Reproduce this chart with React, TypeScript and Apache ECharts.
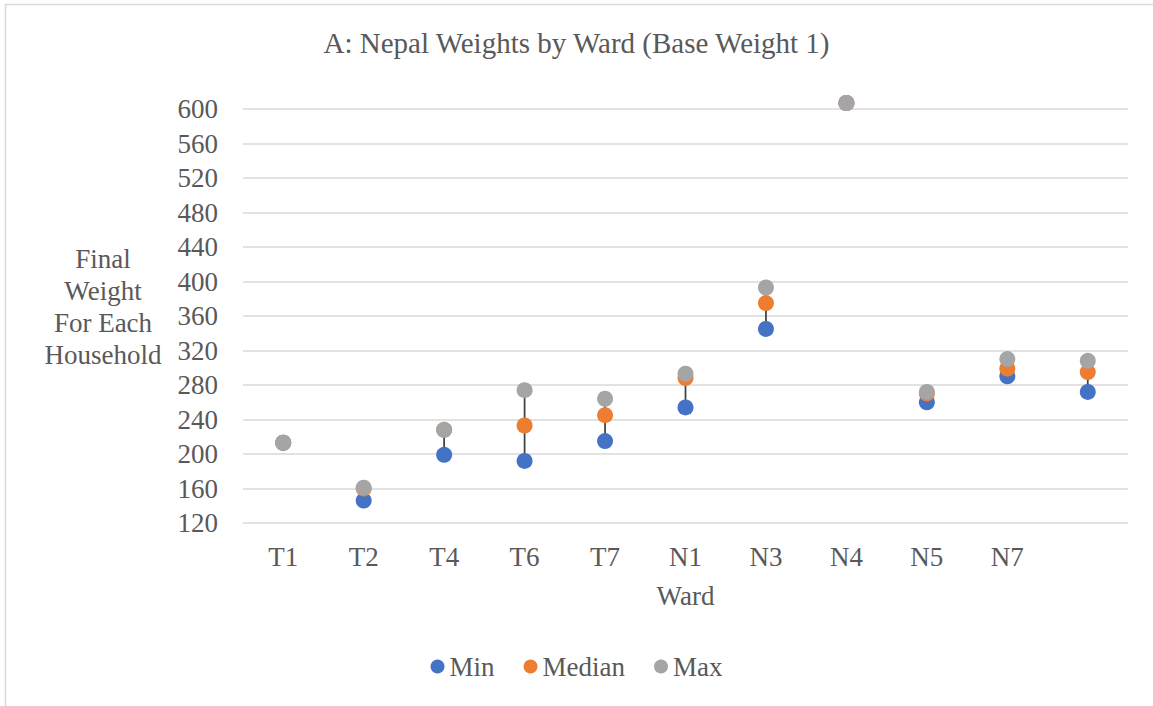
import React, { useEffect, useRef } from "react";
import * as echarts from "echarts";

// Wards along the x axis (the last slot carries no label)
const wards = ["T1", "T2", "T4", "T6", "T7", "N1", "N3", "N4", "N5", "N7", ""];

// Final household weights per ward
const minWeights = [213, 146, 199, 192, 215, 254, 345, 607, 260, 290, 272];
const medianWeights = [213, 160, 228, 233, 245, 288, 375, 607, 270, 299, 295];
const maxWeights = [213, 161, 228, 274, 264, 293, 393, 607, 272, 310, 308];

// Value axis ticks
const yMin = 120;
const yMax = 600;
const yStep = 40;

const FONT = "Times New Roman, serif";
const TEXT = "#595959";
const SIZE = 27;

export default function App() {
  const ref = useRef<HTMLDivElement>(null);

  useEffect(() => {
    if (!ref.current) return;
    const chart = echarts.init(ref.current, undefined, { renderer: "svg" });

    const highLow = wards.map((_, i) => [i, minWeights[i], maxWeights[i]]);

    chart.setOption({
      animation: false,
      backgroundColor: "#ffffff",
      textStyle: { fontFamily: FONT, color: TEXT },
      title: {
        text: "A: Nepal Weights by Ward (Base Weight 1)",
        left: "center",
        top: 23,
        textStyle: { fontFamily: FONT, fontSize: 29, fontWeight: "normal", color: TEXT },
      },
      graphic: [
        {
          type: "rect",
          silent: true,
          shape: { x: 5.5, y: 4.5, width: 1200, height: 760 },
          style: { fill: "none", stroke: "#d9d9d9", lineWidth: 1.5 },
        },
        {
          type: "text",
          x: 103,
          y: 243,
          style: {
            text: "Final\nWeight\nFor Each\nHousehold",
            fontFamily: FONT,
            fontSize: SIZE,
            fill: TEXT,
            align: "center",
            verticalAlign: "top",
            lineHeight: 32,
          },
        },
      ],
      legend: {
        bottom: 21,
        left: "center",
        itemWidth: 14,
        itemHeight: 14,
        itemGap: 29,
        textStyle: { fontFamily: FONT, fontSize: SIZE, color: TEXT },
        data: [
          { name: "Min", icon: "circle" },
          { name: "Median", icon: "circle" },
          { name: "Max", icon: "circle" },
        ],
      },
      grid: { left: 243, right: 25, top: 109, bottom: 183, containLabel: false },
      xAxis: {
        type: "category",
        data: wards,
        name: "Ward",
        nameLocation: "middle",
        nameGap: 59,
        nameTextStyle: { fontFamily: FONT, fontSize: SIZE, color: TEXT },
        axisLine: { show: false },
        axisTick: { show: false },
        axisLabel: { fontFamily: FONT, fontSize: SIZE, color: TEXT, margin: 20 },
      },
      yAxis: {
        type: "value",
        min: yMin,
        max: yMax,
        interval: yStep,
        axisLine: { show: false },
        axisTick: { show: false },
        axisLabel: { fontFamily: FONT, fontSize: SIZE, color: TEXT, margin: 25 },
        splitLine: { lineStyle: { color: "#d9d9d9", width: 1.5 } },
      },
      series: [
        {
          name: "HighLow",
          type: "custom",
          silent: true,
          data: highLow,
          encode: { x: 0, y: [1, 2] },
          renderItem: (params: any, api: any) => {
            const lo = api.coord([api.value(0), api.value(1)]);
            const hi = api.coord([api.value(0), api.value(2)]);
            return {
              type: "line",
              shape: { x1: lo[0], y1: lo[1], x2: hi[0], y2: hi[1] },
              style: { stroke: "#404040", lineWidth: 1.75 },
            };
          },
          z: 1,
        },
        {
          name: "Min",
          type: "scatter",
          data: minWeights,
          symbolSize: 16,
          clip: false,
          itemStyle: { color: "#4472C4", opacity: 1 },
          z: 2,
        },
        {
          name: "Median",
          type: "scatter",
          data: medianWeights,
          symbolSize: 16,
          clip: false,
          itemStyle: { color: "#ED7D31", opacity: 1 },
          z: 3,
        },
        {
          name: "Max",
          type: "scatter",
          data: maxWeights,
          symbolSize: 16,
          clip: false,
          itemStyle: { color: "#A5A5A5", opacity: 1 },
          z: 4,
        },
      ],
    });

    return () => chart.dispose();
  }, []);

  return (
    <div
      ref={ref}
      style={{ position: "fixed", left: 0, top: 0, width: 1153, height: 706 }}
    />
  );
}
